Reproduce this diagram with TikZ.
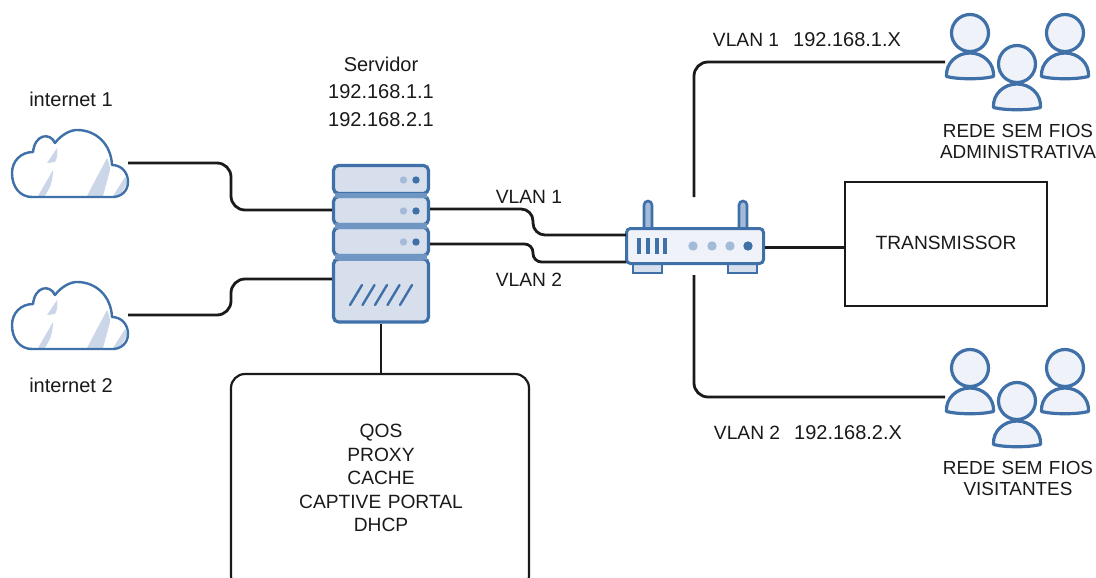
\documentclass[tikz,border=0pt]{standalone}
\usepackage{fontspec}
\setmainfont{Liberation Sans}
\definecolor{icoline}{HTML}{3F70A8}
\definecolor{icofill}{HTML}{D7DFED}
\definecolor{icolite}{HTML}{EFF2F8}
\definecolor{icoband}{HTML}{7096C4}
\definecolor{icodot}{HTML}{A3BBD9}
\definecolor{cloudshade}{HTML}{CBD7E8}
\definecolor{wirecol}{HTML}{1A1A1A}
\newcommand{\capsfont}{\fontsize{19.2}{20}\selectfont}
\newcommand{\lowfont}{\fontsize{20}{20}\selectfont}
\tikzset{
  wire/.style={draw=wirecol,line width=2.8pt,rounded corners=14pt},
  label/.style={font=\capsfont,text=wirecol,inner sep=0pt,align=center},
  lowlabel/.style={font=\lowfont,text=wirecol,inner sep=0pt,align=center},
  srvunit/.style={draw=icoline,fill=icofill,line width=3.2pt,rounded corners=5pt,inner sep=0pt,minimum width=95pt},
  hitbox/.style={inner sep=0pt,outer sep=0pt},
  framebox/.style={draw=wirecol,line width=2.2pt,inner sep=0pt},
  person/.pic={
    \draw[draw=icoline,fill=icolite,line width=3.2pt,line join=round]
      (-23.5,43.5) .. controls (-24.5,30) and (-13,20) .. (0,20)
      .. controls (13,20) and (24.5,30) .. (23.5,43.5)
      .. controls (12,46.5) and (-12,46.5) .. (-23.5,43.5) -- cycle;
    \draw[draw=icoline,fill=icolite,line width=3.2pt] (0,0) circle [radius=18.5];
  },
  cloudicon/.pic={
    \path[fill=white] (-38,33) .. controls (-50,33) and (-58,23) .. (-58,9)
      .. controls (-58,-3) and (-49,-12) .. (-37,-12)
      .. controls (-35,-30) and (-20,-32) .. (-15,-21)
      .. controls (-9,-29) and (0,-34) .. (7,-34)
      .. controls (26,-34) and (41,-20) .. (42,1)
      .. controls (51,1) and (58,8) .. (58,18)
      .. controls (58,27) and (51,33) .. (43,33) -- cycle;
    \fill[cloudshade] (-23,-1) -- (-13,-16) .. controls (-12,-10) and (-13,-5) .. (-15,-2) -- cycle;
    \fill[cloudshade] (-32,32) -- (-17,6) .. controls (-17,14) and (-19,20) .. (-20,23) -- (-25,32) -- cycle;
    \fill[cloudshade] (17,32) -- (37,-6) .. controls (39,-2) and (40,2) .. (40,6) -- (33,32) -- cycle;
    \fill[cloudshade] (43,32) -- (55,13) .. controls (56,15) and (57,17) .. (57,19) -- (50,32) -- cycle;
    \draw[draw=icoline,line width=2.4pt,line join=round]
      (-38,33) .. controls (-50,33) and (-58,23) .. (-58,9)
      .. controls (-58,-3) and (-49,-12) .. (-37,-12)
      .. controls (-35,-30) and (-20,-32) .. (-15,-21)
      .. controls (-9,-29) and (0,-34) .. (7,-34)
      .. controls (26,-34) and (41,-20) .. (42,1)
      .. controls (51,1) and (58,8) .. (58,18)
      .. controls (58,27) and (51,33) .. (43,33) -- cycle;
  }
}
\begin{document}
\begin{tikzpicture}[x=1pt,y=-1pt]
\clip (0,0) rectangle (1096,578);
\useasboundingbox (0,0) rectangle (1096,578);
\fill[white] (0,0) rectangle (1096,578);

% clouds
\pic at (70,164) {cloudicon};
\pic at (70,316) {cloudicon};
\node[hitbox,minimum width=116pt,minimum height=66pt] (cloudA) at (70,164) {};
\node[hitbox,minimum width=116pt,minimum height=66pt] (cloudB) at (70,316) {};

% server
\node[srvunit,minimum height=28pt] (srvA) at (381,179.5) {};
\node[srvunit,minimum height=28pt] (srvB) at (381,210.5) {};
\node[srvunit,minimum height=28pt] (srvC) at (381,241.5) {};
\node[srvunit,minimum height=63pt] (srvD) at (381,290.5) {};
\fill[icoband] (335,192.5) rectangle (427,197.5);
\fill[icoband] (335,223) rectangle (427,228.5);
\fill[icoband] (335,254) rectangle (427,259.5);
\foreach \yy in {180,211,242}{
  \fill[icodot] (403.5,\yy) circle [radius=3.7];
  \fill[icoline] (416,\yy) circle [radius=3.7];
}
\foreach \xx in {0,12.5,25,37.5,50}{
  \draw[icoline,line width=2.4pt,line cap=round] (350+\xx,305) -- (362+\xx,285);
}

% router
\draw[icoline,fill=icodot,line width=2.6pt] (644,228) -- (644,205) arc[start angle=180,end angle=360,radius=4] -- (652,228);
\draw[icoline,fill=icodot,line width=2.6pt] (739,228) -- (739,205) arc[start angle=180,end angle=360,radius=4] -- (747,228);
\draw[icoline,fill=icofill,line width=2.4pt] (633,263) rectangle (662,273);
\draw[icoline,fill=icofill,line width=2.4pt] (728,263) rectangle (757,273);
\node[draw=icoline,fill=icolite,line width=3pt,rounded corners=4pt,inner sep=0pt,minimum width=137pt,minimum height=35pt] (router) at (695,246) {};
\foreach \xx in {639,648,657,665}{
  \draw[icoline,line width=3.4pt] (\xx,238) -- (\xx,254);
}
\foreach \xx in {693,712,730}{
  \fill[icodot] (\xx,246) circle [radius=4.7];
}
\fill[icoline] (748,246) circle [radius=4.7];
\coordinate (routerUp) at (694,197);
\coordinate (routerDown) at (694,275);
\coordinate (routerA) at (626,235);
\coordinate (routerB) at (626,262);

% people
\pic at (970,33) {person};
\pic at (1065,33) {person};
\pic at (1017,64) {person};
\pic at (970,368) {person};
\pic at (1065,368) {person};
\pic at (1017,401) {person};
\node[hitbox,minimum width=50pt,minimum height=48pt] (admins) at (970,54) {};
\node[hitbox,minimum width=50pt,minimum height=48pt] (guests) at (970,389) {};

% boxes
\node[framebox,minimum width=202pt,minimum height=124pt] (tx) at (946,244) {};
\node[framebox,rounded corners=14pt,minimum width=298pt,minimum height=216pt] (svc) at (380,482) {};

% connectors
\draw[wire] (cloudA.east |- 0,163) -- (231,163) -- (231,210) -- (srvB.west |- 0,210);
\draw[wire] (cloudB.east |- 0,315) -- (231,315) -- (231,279) -- (srvD.west |- 0,279);
\draw[wire,rounded corners=12pt] (srvB.east |- 0,209) -- (533,209) -- (533,235) -- (routerA);
\draw[wire,rounded corners=8.5pt] (srvC.east |- 0,244) -- (533,244) -- (533,262) -- (routerB);
\draw[wire] (srvD.south) -- (svc.north -| srvD.south);
\draw[wire] (router.east |- 0,247.4) -- (tx.west |- 0,247.4);
\draw[wire] (routerUp) -- (694,62) -- (admins.west |- 0,62);
\draw[wire] (routerDown) -- (694,397) -- (guests.west |- 0,397);

% labels
\node[lowlabel] (t1) at (381,64) {Servidor};
\node[lowlabel] (t2) at (381,92) {192.168.1.1};
\node[lowlabel] (t3) at (381,120) {192.168.2.1};
\node[lowlabel] (t4) at (71,99) {internet 1};
\node[lowlabel] (t5) at (71,385) {internet 2};
\node[label] (t6) at (529,197) {VLAN 1};
\node[label] (t7) at (529,280) {VLAN 2};
\node[label] (t8) at (807,40) {VLAN 1\hspace{14pt}{\lowfont 192.168.1.X}};
\node[label] (t9) at (808,433) {VLAN 2\hspace{14pt}{\lowfont 192.168.2.X}};
\node[label,font=\fontsize{18.9}{20}\selectfont,text width=170pt] (t10) at (1018,141.5) {REDE SEM FIOS\\[1pt]ADMINISTRATIVA};
\node[label,font=\fontsize{18.9}{20}\selectfont,text width=170pt] (t11) at (1018,478) {REDE SEM FIOS\\[1pt]VISITANTES};
\node[label] (t12) at (946,243) {TRANSMISSOR};
\node[label,text width=220pt] (t13) at (381,478) {QOS\\[3.5pt]PROXY\\[3.5pt]CACHE\\[3.5pt]CAPTIVE PORTAL\\[3.5pt]DHCP};
\end{tikzpicture}
\end{document}
